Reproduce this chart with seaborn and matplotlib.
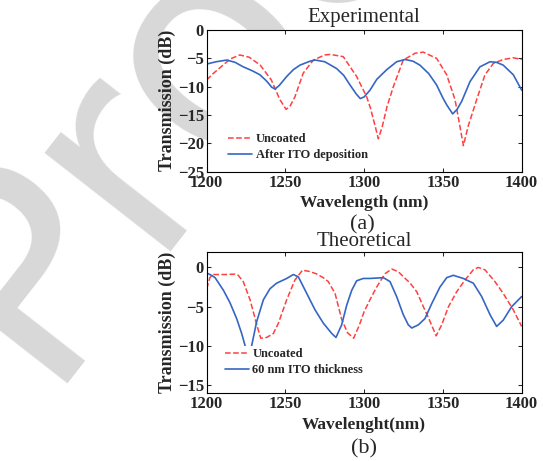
import numpy as np
import pandas as pd
import matplotlib
matplotlib.use('Agg')
import matplotlib.pyplot as plt
import seaborn as sns

# ---- data ----
# (a) experimental
wl_exp_unc = [1200, 1204, 1209.5, 1215, 1221, 1227, 1234, 1241, 1246.5, 1250.4, 1253, 1256,
              1261.3, 1267.7, 1275, 1278.5, 1286.7, 1295.2, 1301.6, 1304, 1307, 1309, 1311.5,
              1314.5, 1318.5, 1324.8, 1332.3, 1337.5, 1346, 1352.4, 1357.7, 1360.8, 1363,
              1366, 1371.4, 1376.7, 1382, 1388.3, 1394.7, 1400]
tr_exp_unc = [-8.8, -7.7, -6.4, -5.1, -4.4, -4.8, -6.2, -8.8, -12.3, -14.0, -13.4, -11.8,
              -7.6, -5.3, -4.4, -4.3, -4.7, -8.2, -11.8, -13.8, -17.0, -19.2, -17.0,
              -13.5, -10.0, -5.3, -4.1, -3.9, -5.0, -7.9, -12.3, -17.0, -20.4,
              -17.0, -12.3, -7.9, -5.9, -5.2, -4.9, -5.2]

wl_exp_ito = [1200, 1206, 1212.7, 1218, 1223.2, 1229, 1233.8, 1238, 1241.3, 1243.4, 1246,
              1250.8, 1255, 1259.2, 1265.6, 1269, 1275, 1282.5, 1287, 1291, 1295, 1297.5,
              1300, 1303.7, 1308, 1314.3, 1320.6, 1325.9, 1331, 1335.4, 1341, 1346, 1350,
              1352.4, 1356.2, 1359, 1361.9, 1367.2, 1373.5, 1379.9, 1384, 1388.3, 1394.7, 1400]
tr_exp_ito = [-6.0, -5.6, -5.3, -5.7, -6.5, -7.2, -7.9, -9.0, -10.1, -10.4, -9.8,
              -8.2, -7.0, -6.2, -5.5, -5.3, -5.6, -6.8, -8.0, -9.7, -11.3, -12.1,
              -11.8, -10.6, -8.7, -7.0, -5.6, -5.2, -5.5, -6.2, -7.7, -9.7, -12.0,
              -13.2, -14.8, -14.0, -12.6, -9.1, -6.5, -5.6, -5.7, -6.2, -7.9, -10.6]

# (b) theoretical
wl_th_unc = [1200, 1202, 1204, 1212, 1218, 1220, 1223.2, 1227.5, 1231.8, 1234.3, 1238.1,
             1242.3, 1245.5, 1250.8, 1256, 1260.8, 1265, 1269.5, 1274, 1277.2, 1281.5,
             1285.7, 1289.4, 1293.3, 1297, 1300, 1303.7, 1307.9, 1313.2, 1317.5, 1321.7,
             1325, 1329.2, 1333.4, 1337.6, 1341.9, 1345.7, 1349.2, 1353.5, 1358.7, 1364,
             1369.3, 1372.4, 1376.7, 1383, 1388.3, 1394.7, 1400]
tr_th_unc = [-2.7, -1.3, -0.9, -0.9, -0.85, -1.0, -1.8, -4.1, -7.3, -9.0, -8.9,
             -8.4, -7.1, -4.1, -1.6, -0.35, -0.5, -0.8, -1.3, -1.8, -3.3,
             -6.6, -8.3, -9.0, -7.3, -5.6, -4.1, -2.5, -0.8, -0.2, -0.55,
             -1.2, -2.0, -3.1, -5.0, -6.9, -8.7, -7.3, -5.0, -3.1, -1.6,
             -0.3, 0.0, -0.3, -1.8, -3.3, -5.4, -7.5]

wl_th_ito = [1200, 1203, 1205.3, 1210.6, 1214.8, 1219, 1222.2, 1224.3, 1226.5, 1228.6,
             1231.7, 1236, 1240.2, 1244.4, 1250.8, 1255, 1258.2, 1263.5, 1268.8, 1274.1,
             1279.4, 1282.1, 1285.7, 1288.9, 1292.1, 1295.2, 1299.4, 1303.7, 1312.2, 1316.4,
             1320.6, 1324.8, 1328, 1330.2, 1334.4, 1338.6, 1342.9, 1348.1, 1352.4, 1356.6,
             1362.9, 1369.3, 1374.6, 1379.9, 1384.1, 1388.3, 1393.6, 1400]
tr_th_ito = [-0.7, -1.0, -1.3, -2.9, -4.5, -6.5, -8.4, -9.9, -12.0, -9.9,
             -6.9, -4.1, -2.7, -2.0, -1.4, -0.9, -1.2, -3.3, -5.4, -7.1,
             -8.4, -8.9, -7.3, -4.8, -2.9, -1.7, -1.4, -1.4, -1.3, -1.8,
             -3.7, -6.0, -7.3, -7.7, -7.3, -6.5, -4.6, -2.5, -1.3, -1.0,
             -1.4, -2.0, -3.7, -6.0, -7.5, -6.7, -5.0, -3.7]

xticks = [1200, 1250, 1300, 1350, 1400]

RED = '#ff4040'
BLUE = '#3566c4'

sns.set_style('ticks')
plt.rcParams['font.family'] = ['Liberation Serif', 'DejaVu Sans']
plt.rcParams['xtick.direction'] = 'in'
plt.rcParams['ytick.direction'] = 'in'

fig = plt.figure(figsize=(5.43, 4.61), dpi=100)

# watermark behind the axes
fig.text(0.072, 0.167, 'Proof', rotation=52, rotation_mode='anchor', ha='left',
         va='baseline', fontsize=210, color='#d8d8d8', family='DejaVu Sans', zorder=-1)

ax1 = fig.add_axes([0.3807, 0.6275, 0.580, 0.3074])
ax2 = fig.add_axes([0.3807, 0.1469, 0.580, 0.3071])


def style(ax, ylim, yticks, xlabel, title, tpad):
    ax.set_xlim(1200, 1400)
    ax.set_ylim(*ylim)
    ax.set_xticks(xticks)
    ax.set_yticks(yticks)
    ax.tick_params(top=True, right=True, length=3, width=0.75, labelsize=12, pad=2)
    for lab in ax.get_xticklabels() + ax.get_yticklabels():
        lab.set_fontweight('bold')
    for s in ax.spines.values():
        s.set_visible(True)
        s.set_linewidth(0.8)
        s.set_color('black')
    ax.set_xlabel(xlabel, fontsize=12.5, fontweight='bold', labelpad=3.5)
    ax.set_ylabel('Transmission (dB)', fontsize=13, fontweight='bold', labelpad=1)
    ax.set_title(title, fontsize=15, pad=tpad)


sns.lineplot(x=wl_exp_unc, y=tr_exp_unc, ax=ax1, color=RED, linestyle='--', lw=1.1,
             label='Uncoated')
sns.lineplot(x=wl_exp_ito, y=tr_exp_ito, ax=ax1, color=BLUE, lw=1.2,
             label='After ITO deposition')
style(ax1, (-25, 0), [0, -5, -10, -15, -20, -25], 'Wavelength (nm)', 'Experimental', 6)

sns.lineplot(x=wl_th_unc, y=tr_th_unc, ax=ax2, color=RED, linestyle='--', lw=1.1,
             label='Uncoated')
sns.lineplot(x=wl_th_ito, y=tr_th_ito, ax=ax2, color=BLUE, lw=1.2,
             label='60 nm ITO thickness')
style(ax2, (-16, 2), [0, -5, -10, -15], 'Wavelenght(nm)', 'Theoretical', 4)

legend_kw = dict(loc='upper left', frameon=True, facecolor='white', edgecolor='none',
                 framealpha=1, fancybox=False, borderaxespad=0, borderpad=0.2,
                 handlelength=1.9, handletextpad=0.3, labelspacing=0.3,
                 prop={'weight': 'bold', 'size': 9})
ax1.legend(bbox_to_anchor=(0.06, 0.29), **legend_kw)
ax2.legend(bbox_to_anchor=(0.05, 0.335), **legend_kw)

fig.text(0.6676, 1 - 225 / 461, '(a)', ha='center', va='center', fontsize=16)
fig.text(0.6707, 1 - 449 / 461, '(b)', ha='center', va='center', fontsize=16)

fig.savefig('out.png', dpi=100)
